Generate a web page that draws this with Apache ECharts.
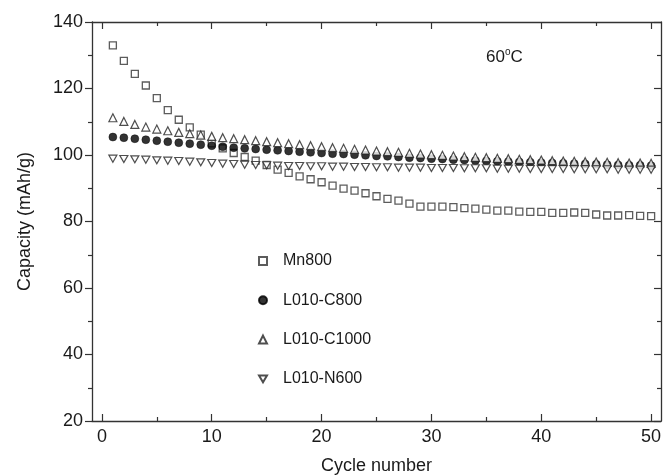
<!DOCTYPE html>
<html>
<head>
<meta charset="utf-8">
<script src="https://cdn.jsdelivr.net/npm/echarts@6/dist/echarts.min.js"></script>
<style>html,body{margin:0;padding:0;background:#fff}#c{width:664px;height:476px}</style>
</head>
<body>
<div id="c"></div>
<script>
const cycles = [];
for (let i = 1; i <= 50; i++) cycles.push(i);
const xMajor = [0, 10, 20, 30, 40, 50];
const xMinor = [5, 15, 25, 35, 45];

const mn800 = [133.0,128.3,124.4,120.9,117.1,113.5,110.6,108.3,106.1,103.5,
  102.0,100.6,99.4,98.3,97.0,95.6,94.6,93.6,92.7,91.8,
  90.8,89.9,89.3,88.5,87.6,86.8,86.3,85.4,84.5,84.5,
  84.5,84.3,84.0,83.9,83.6,83.3,83.3,83.0,82.9,82.9,
  82.6,82.6,82.7,82.6,82.1,81.8,81.8,81.9,81.7,81.6];
const c800 = [105.4,105.2,104.9,104.6,104.3,104.0,103.7,103.4,103.1,102.8,
  102.5,102.2,102.0,101.8,101.6,101.4,101.2,101.0,100.8,100.6,
  100.4,100.3,100.1,99.9,99.7,99.6,99.4,99.2,99.1,98.9,
  98.8,98.6,98.5,98.3,98.2,98.1,98.0,97.9,97.8,97.7,
  97.6,97.5,97.4,97.3,97.2,97.1,97.0,96.9,96.9,96.8];
const c1000 = [111.2,110.1,109.2,108.4,107.8,107.3,106.8,106.4,106.0,105.6,
  105.2,104.9,104.6,104.3,104.0,103.7,103.4,103.1,102.8,102.5,
  102.2,102.0,101.7,101.5,101.2,101.0,100.8,100.5,100.3,100.1,
  99.9,99.7,99.5,99.3,99.2,99.0,98.9,98.7,98.6,98.5,
  98.3,98.2,98.1,98.0,97.9,97.8,97.7,97.6,97.6,97.5];
const n600 = [98.9,98.8,98.7,98.6,98.4,98.3,98.2,98.0,97.8,97.6,
  97.4,97.3,97.1,97.0,96.9,96.8,96.7,96.7,96.6,96.6,
  96.5,96.5,96.4,96.4,96.3,96.3,96.2,96.2,96.2,96.1,
  96.1,96.1,96.0,96.0,96.0,95.9,95.9,95.9,95.8,95.8,
  95.8,95.8,95.7,95.7,95.7,95.7,95.6,95.6,95.6,95.6];
const seriesNames = ['Mn800', 'L010-C800', 'L010-C1000', 'L010-N600'];

const FONT = "'Liberation Sans', Arial, sans-serif";
const AX = '#333';
const TXT = '#1a1a1a';
const pair = arr => cycles.map((c, i) => [c, arr[i]]);
const downTri = 'path://M0,0 L10,0 L5,8.66 Z';

const xBase = {
  type: 'value', min: -0.9, max: 50.9, gridIndex: 0,
  splitLine: { show: false },
  axisLine: { onZero: false, lineStyle: { color: AX, width: 1.3 } }
};
const yBase = {
  type: 'value', min: 20, max: 140, interval: 20,
  splitLine: { show: false },
  axisLine: { onZero: false, lineStyle: { color: AX, width: 1.3 } },
  minorTick: { show: true, splitNumber: 2, length: 4, lineStyle: { color: AX, width: 1.2 } }
};

const chart = echarts.init(document.getElementById('c'), null, { renderer: 'canvas' });
chart.setOption({
  animation: false,
  backgroundColor: '#fff',
  textStyle: { fontFamily: FONT },
  grid: { left: 92, right: 3, top: 22, bottom: 55, containLabel: false, outerBoundsMode: 'none' },
  xAxis: [
    Object.assign({}, xBase, {
      position: 'bottom',
      axisTick: { inside: true, length: 7, customValues: xMajor, lineStyle: { color: AX, width: 1.2 } },
      axisLabel: { customValues: xMajor, margin: 7, color: TXT, fontSize: 18, fontFamily: FONT },
      name: 'Cycle number', nameLocation: 'middle', nameGap: 36,
      nameTextStyle: { color: TXT, fontSize: 18, fontFamily: FONT }
    }),
    Object.assign({}, xBase, {
      position: 'top',
      axisTick: { inside: true, length: 7, customValues: xMajor, lineStyle: { color: AX, width: 1.2 } },
      axisLabel: { show: false }
    }),
    Object.assign({}, xBase, {
      position: 'bottom', axisLine: { show: false },
      axisTick: { inside: true, length: 4, customValues: xMinor, lineStyle: { color: AX, width: 1.2 } },
      axisLabel: { show: false }
    }),
    Object.assign({}, xBase, {
      position: 'top', axisLine: { show: false },
      axisTick: { inside: true, length: 4, customValues: xMinor, lineStyle: { color: AX, width: 1.2 } },
      axisLabel: { show: false }
    })
  ],
  yAxis: [
    Object.assign({}, yBase, {
      position: 'left',
      axisTick: { inside: false, length: 7, lineStyle: { color: AX, width: 1.2 } },
      axisLabel: { margin: 9, color: TXT, fontSize: 18, fontFamily: FONT },
      name: 'Capacity (mAh/g)', nameLocation: 'middle', nameGap: 58,
      nameTextStyle: { color: TXT, fontSize: 18, fontFamily: FONT }
    }),
    Object.assign({}, yBase, {
      position: 'right',
      axisTick: { inside: true, length: 7, lineStyle: { color: AX, width: 1.2 } },
      axisLabel: { show: false }
    })
  ],
  legend: {
    orient: 'vertical', left: 253, top: 248,
    itemWidth: 8, itemHeight: 8, itemGap: 23.3,
    data: seriesNames,
    textStyle: { color: TXT, fontSize: 16, fontFamily: FONT, padding: [0, 0, 0, 11] },
    selectedMode: false
  },
  graphic: [{
    type: 'text', left: 486, top: 47,
    style: {
      text: '{a|60}{s|o}{a|C}',
      rich: {
        a: { fontSize: 17, fontFamily: FONT, fill: TXT },
        s: { fontSize: 10, fontFamily: FONT, fill: TXT, padding: [0, 0, 10, 0] }
      }
    }
  }],
  series: [
    { name: seriesNames[0], type: 'scatter', data: pair(mn800), symbol: 'rect', symbolSize: 7,
      itemStyle: { color: '#fff', borderColor: '#333', borderWidth: 1.3 }, z: 2 },
    { name: seriesNames[1], type: 'scatter', data: pair(c800), symbol: 'circle', symbolSize: 8,
      itemStyle: { color: '#000', borderColor: '#000', borderWidth: 0.5 }, z: 3 },
    { name: seriesNames[2], type: 'scatter', data: pair(c1000), symbol: 'triangle', symbolSize: 8,
      itemStyle: { color: '#fff', borderColor: '#222', borderWidth: 1.2 }, z: 4 },
    { name: seriesNames[3], type: 'scatter', data: pair(n600), symbol: downTri, symbolSize: [8, 7],
      itemStyle: { color: '#fff', borderColor: '#222', borderWidth: 1.2 }, z: 4 }
  ]
});
</script>
</body>
</html>
